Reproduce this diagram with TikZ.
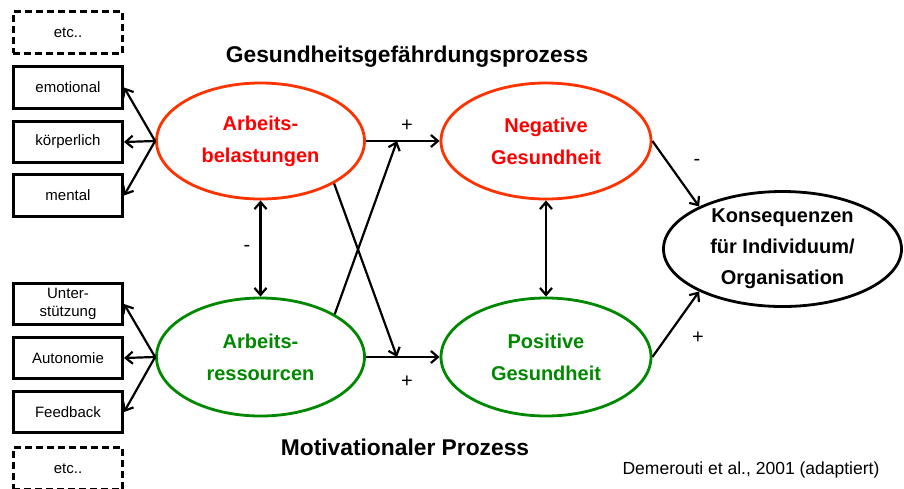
\documentclass[tikz,border=0pt]{standalone}
\usepackage{fontspec}
\setmainfont{Liberation Sans}
\usetikzlibrary{shapes.geometric,arrows.meta}
\definecolor{ored}{RGB}{255,51,0}
\definecolor{tred}{RGB}{255,0,0}
\definecolor{mgreen}{RGB}{0,136,0}
\begin{document}
\begin{tikzpicture}[x=1pt,y=-1pt,
 box/.style={draw, line width=2.6pt, minimum width=109.5pt, minimum height=41.5pt, inner sep=0pt, align=center, font=\fontsize{15}{18}\selectfont},
 dbox/.style={box, dash pattern=on 7pt off 4pt},
 ell/.style={ellipse, draw, line width=2.8pt, inner sep=0pt, minimum width=208pt, minimum height=116pt, align=center, font=\fontsize{20}{32}\selectfont\bfseries},
 arr/.style={line width=2.2pt, -{Straight Barb[length=7pt,width=12pt]}},
 darr/.style={line width=2.2pt, {Straight Barb[length=7pt,width=12pt]}-{Straight Barb[length=7pt,width=12pt]}},
 lbl/.style={font=\fontsize{20}{22}\selectfont},
 ttl/.style={font=\fontsize{22.8}{26}\selectfont\bfseries}]
\clip (0,0) rectangle (904,488);

% left boxes
\node[dbox] (etc1) at (68,32.5) {etc..};
\node[box] (emo) at (68,87.5) {emotional};
\node[box] (koerp) at (68,142) {körperlich};
\node[box] (ment) at (68,195.5) {mental};
\node[box] (unter) at (68,304) {Unter-\\stützung};
\node[box] (auto) at (68,358) {Autonomie};
\node[box] (feed) at (68,412) {Feedback};
\node[dbox] (etc2) at (68,468.5) {etc..};

% ellipses
\node[ell, draw=ored, text=tred] (bel) at (260.5,141) {Arbeits-\\belastungen};
\node[ell, draw=mgreen, text=mgreen, minimum height=118pt] (res) at (260.5,357) {Arbeits-\\ressourcen};
\node[ell, draw=ored, text=tred, minimum width=210pt] (neg) at (546,141) {Negative\\Gesundheit};
\node[ell, draw=mgreen, text=mgreen, minimum width=210pt, minimum height=118pt] (pos) at (546,357) {Positive\\Gesundheit};
\node[ell, draw=black, text=black, minimum width=238pt, minimum height=115pt, font=\fontsize{20}{31}\selectfont\bfseries] (kons) at (782.5,249) {Konsequenzen\\für Individuum/\\Organisation};

% titles
\node[ttl] (t1) at (407,57) {Gesundheitsgefährdungsprozess};
\node[ttl] (t2) at (405,447) {Motivationaler Prozess};
\node[font=\fontsize{17.5}{20}\selectfont] (src) at (751,470) {Demerouti et al., 2001 (adaptiert)};

% arrows to left boxes
\draw[arr] (bel.west) -- (emo.east);
\draw[arr] (bel.west) -- (koerp.east);
\draw[arr] (bel.west) -- (ment.east);
\draw[arr] (res.west) -- (unter.east);
\draw[arr] (res.west) -- (auto.east);
\draw[arr] (res.west) -- (feed.east);

% horizontal arrows
\coordinate (m1) at (397,141);
\coordinate (m2) at (397,357);
\draw[arr] (bel.east) -- (neg.west);
\draw[arr] (res.east) -- (pos.west);
\draw[arr] (bel.-30) -- (m2);
\draw[arr] (res.30) -- (m1);

% vertical double arrows
\draw[darr] (bel.south) -- (res.north);
\draw[darr] (neg.south) -- (pos.north);

% to consequences
\draw[arr] (neg.east) -- (kons.153);
\draw[arr] (pos.east) -- (kons.207);

% labels
\node[lbl] (p1) at (407,126) {+};
\node[lbl] (p2) at (407,382) {+};
\node[lbl] (n1) at (247,248) {-};
\node[lbl] (n2) at (697,162) {-};
\node[lbl] (p3) at (698,338) {+};
\end{tikzpicture}
\end{document}
